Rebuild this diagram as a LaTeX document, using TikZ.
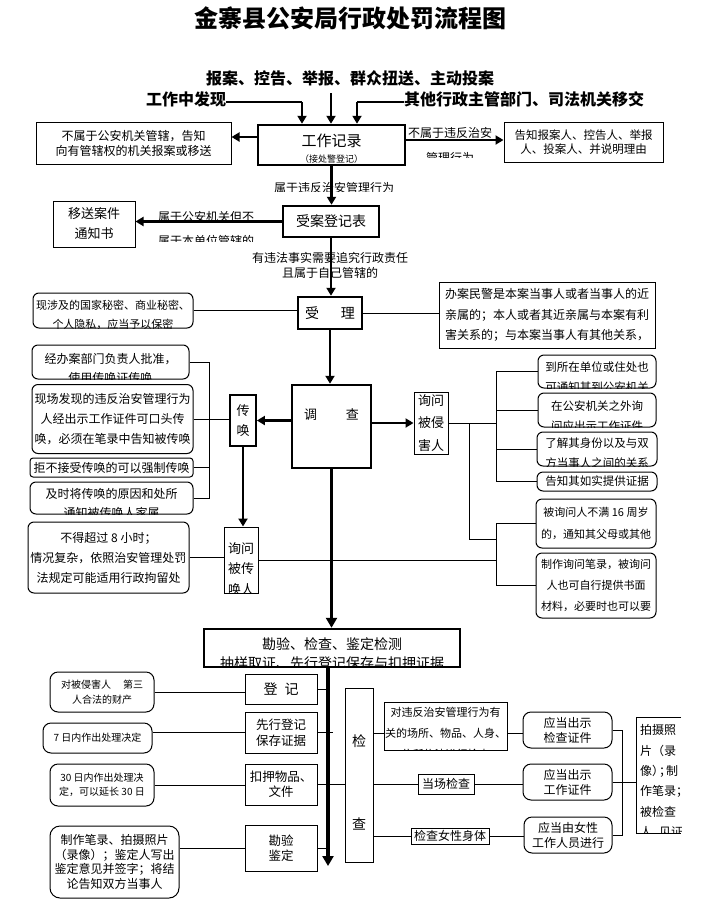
\documentclass[tikz,border=0pt]{standalone}
\usepackage{fontspec}
\setmainfont{Noto Sans CJK SC}
\usetikzlibrary{arrows.meta,positioning,calc}

\newcommand{\setfs}[2]{\fontsize{#1}{#2}\selectfont}

\tikzset{
  mainbox/.style={draw,line width=2.5pt,inner sep=1pt,align=center},
  plainbox/.style={draw,line width=1pt,inner sep=1pt,align=center},
  rbox/.style={plainbox,rounded corners=6pt},
  lbl/.style={inner sep=0pt,align=center},
  cliptxt/.style 2 args={path picture={%
      \node[anchor=north,align=center,inner sep=0pt,
            minimum width=0pt,minimum height=0pt]
        at ([yshift=-#1]path picture bounding box.north) {#2};}},
  arr/.style={-{Triangle[length=8pt,width=9pt]},line width=2.5pt},
  bigarr/.style={-{Triangle[length=10pt,width=11pt]},line width=3.5pt},
  lnk/.style={line width=1pt}
}

\begin{document}
\begin{tikzpicture}[x=1pt,y=-1pt]
  \useasboundingbox (0,0) rectangle (716,900);

  % ---- Title and sources ---------------------------------------
  \node[lbl,font=\setfs{24}{24}\bfseries] (title) at (350,18)
    {金寨县公安局行政处罚流程图};
  \node[lbl,font=\setfs{16}{16}\bfseries] (srcm) at (350,78)
    {报案、控告、举报、群众扭送、主动投案};
  \node[lbl,font=\setfs{16}{16}\bfseries] (srcl) at (186,99) {工作中发现};
  \node[lbl,font=\setfs{16}{16}\bfseries] (srcr) at (524,99)
    {其他行政主管部门、司法机关移交};

  % ---- Work record ---------------------------------------------
  \node[mainbox,minimum width=147pt,minimum height=40pt,
        font=\setfs{15}{15},text depth=9pt,
        path picture={\node[font=\setfs{9}{9},inner sep=0pt,
          minimum width=0pt,minimum height=0pt]
          at ([yshift=2pt]path picture bounding box.south) {（接处警登记）};}]
    (rec) at (331.5,145) {工作记录};

  \coordinate (srca) at (302,102);
  \coordinate (srcb) at (331,93);
  \coordinate (srcc) at (357,102);
  \draw[lnk,line width=1.5pt] (srcl.east |- srca) -- (srca);
  \draw[arr] (srca) -- (srca |- rec.north);
  \draw[arr] (srcb) -- (srcb |- rec.north);
  \draw[lnk,line width=1.5pt] (srcr.west |- srcc) -- (srcc);
  \draw[arr] (srcc) -- (srcc |- rec.north);

  \node[plainbox,minimum width=195pt,minimum height=42pt,font=\setfs{12}{15}]
    (outl) at (133.5,143) {不属于公安机关管辖，告知\\向有管辖权的机关报案或移送};
  \node[plainbox,minimum width=159pt,minimum height=40pt,font=\setfs{11.5}{14}]
    (outr) at (583.5,142) {告知报案人、控告人、举报\\人、投案人、并说明理由};

  \coordinate (recw) at ([yshift=8pt]rec.west);
  \coordinate (rece) at ([yshift=5pt]rec.east);
  \draw[arr] (recw) -- (recw -| outl.east);
  \draw[arr] (rece) -- (rece -| outr.west);
  \node[lbl,font=\setfs{12}{12}] (nota) at (450,133) {不属于违反治安};
  \node[minimum width=60pt,minimum height=6pt,inner sep=0pt,font=\setfs{12}{12},
        cliptxt={1.6pt}{管理行为}] (notb) at (450,154) {};

  % ---- Case register -------------------------------------------
  \node[mainbox,minimum width=96pt,minimum height=31pt,font=\setfs{14}{14}]
    (reg) at (331,221.5) {受案登记表};
  \draw[arr] (rec.south) -- (rec.south |- reg.north);
  \node[minimum width=130pt,minimum height=10pt,inner sep=0pt,font=\setfs{12}{12},
        cliptxt={1.6pt}{属于违反治安管理行为}] (isv) at (334,186) {};

  \node[plainbox,minimum width=82pt,minimum height=46pt,font=\setfs{13}{20}]
    (mov) at (94,224) {移送案件\\通知书};
  \draw[arr] (reg.west) -- (reg.west -| mov.east);
  \node[lbl,font=\setfs{12}{12}] (isa) at (206,217) {属于公安机关但不};
  \node[minimum width=100pt,minimum height=7pt,inner sep=0pt,font=\setfs{12}{12},
        cliptxt={1.6pt}{属于本单位管辖的}] (isb) at (206,237.5) {};

  % ---- Acceptance ----------------------------------------------
  \node[lbl,font=\setfs{12}{12}] (ifa) at (330,258) {有违法事实需要追究行政责任};
  \node[lbl,font=\setfs{12}{12}] (ifb) at (330,273) {且属于自己管辖的};
  \node[mainbox,minimum width=64pt,minimum height=32pt,font=\setfs{14}{14}]
    (acc) at (330,313) {受\hspace{22pt}理};
  \draw[arr] (reg.south) -- (reg.south |- acc.north);

  \node[rbox,minimum width=160pt,minimum height=35pt,font=\setfs{11}{19},
        cliptxt={7pt}{现涉及的国家秘密、商业秘密、\\个人隐私，应当予以保密}]
    (sec) at (113,310.5) {};
  \draw[lnk] (sec.east) -- (sec.east -| acc.west);
  \node[plainbox,minimum width=216pt,minimum height=66pt,font=\setfs{12}{20.5}]
    (avo) at (547,315) {办案民警是本案当事人或者当事人的近\\亲属的；本人或者其近亲属与本案有利\\害关系的；与本案当事人有其他关系，};
  \draw[lnk] (acc.east) -- (acc.east -| avo.west);

  % ---- Investigation -------------------------------------------
  \node[mainbox,minimum width=79pt,minimum height=83pt,font=\setfs{13}{13},
        text depth=24pt] (inv) at (331.5,426.5) {调\hspace{29pt}查};
  \draw[arr] (acc.south) -- (acc.south |- inv.north);

  \node[plainbox,line width=1.8pt,minimum width=26pt,minimum height=51pt,
        font=\setfs{13}{20}] (sum) at (243,420.5) {传\\唤};
  \draw[arr] (inv.west |- sum.east) -- (sum.east);
  \node[plainbox,minimum width=34pt,minimum height=62pt,font=\setfs{13}{22.5}]
    (vic) at (431,423) {询问\\被侵\\害人};
  \draw[arr] (inv.east |- vic.west) -- (vic.west);

  % summons conditions (left)
  \node[rbox,minimum width=157pt,minimum height=34pt,font=\setfs{12}{19},
        cliptxt={7.6pt}{经办案部门负责人批准，\\使用传唤证传唤}] (sa) at (110.5,362) {};
  \node[rbox,minimum width=161pt,minimum height=69pt,font=\setfs{12}{20}]
    (sb) at (112.5,419) {现场发现的违反治安管理行为\\人经出示工作证件可口头传\\唤，必须在笔录中告知被传唤};
  \node[rbox,rounded corners=3pt,minimum width=163pt,minimum height=19pt,
        font=\setfs{12}{12}] (sc) at (111.5,467.5) {拒不接受传唤的可以强制传唤};
  \node[rbox,minimum width=163pt,minimum height=32pt,font=\setfs{12}{19},
        cliptxt={5.6pt}{及时将传唤的原因和处所\\通知被传唤人家属}] (sd) at (111.5,498) {};
  \coordinate (spa) at (209,0);
  \draw[lnk] (sa.east) -- (sa.east -| spa) -- (sd.east -| spa) -- (sd.east);
  \draw[lnk] (sc.east) -- (sc.east -| spa);
  \draw[lnk] (sb.east) -- (sb.east -| sum.west);

  \node[plainbox,minimum width=34pt,minimum height=66pt,font=\setfs{13}{20.5},
        cliptxt={15pt}{询问\\被传\\唤人}] (sumq) at (241,560) {};
  \draw[arr] (sum.south) -- (sum.south |- sumq.north);
  \node[rbox,minimum width=161pt,minimum height=71pt,font=\setfs{12}{20}]
    (lim) at (108.5,557.5) {不得超过 8 小时；\\情况复杂，依照治安管理处罚\\法规定可能适用行政拘留处};
  \draw[lnk] (lim.east) -- (lim.east -| sumq.west);

  % questioning rules (right)
  \node[rbox,minimum width=118pt,minimum height=33pt,font=\setfs{11.5}{20},
        cliptxt={5.8pt}{到所在单位或住处也\\可通知其到公安机关}] (wa) at (597,371.5) {};
  \node[rbox,minimum width=118pt,minimum height=34pt,font=\setfs{11.5}{20},
        cliptxt={6.8pt}{在公安机关之外询\\问应出示工作证件}] (wb) at (597,410) {};
  \node[rbox,minimum width=120pt,minimum height=34pt,font=\setfs{11.5}{20},
        cliptxt={4.8pt}{了解其身份以及与双\\方当事人之间的关系}] (wc) at (597,449) {};
  \node[rbox,minimum width=120pt,minimum height=19pt,font=\setfs{11.5}{12}]
    (wd) at (597,481.5) {告知其如实提供证据};
  \node[rbox,minimum width=120pt,minimum height=49pt,font=\setfs{11}{22}]
    (we) at (596,523.5) {被询问人不满 16 周岁\\的，通知其父母或其他};
  \node[rbox,minimum width=120pt,minimum height=65pt,font=\setfs{11}{21}]
    (wf) at (596,585.5) {制作询问笔录，被询问\\人也可自行提供书面\\材料，必要时也可以要};
  \coordinate (spb) at (496,0);
  \coordinate (brk) at (469,539);
  \draw[lnk] (vic.east) -- (vic.east -| spb);
  \draw[lnk] (wa.west) -- (wa.west -| spb) -- (wd.west -| spb) -- (wd.west);
  \draw[lnk] (wb.west) -- (wb.west -| spb);
  \draw[lnk] (wc.west) -- (wc.west -| spb);
  \draw[lnk] (vic.east -| brk) -- (brk) -- (brk -| spb);
  \draw[lnk] (we.west) -- (we.west -| spb) -- (wf.west -| spb) -- (wf.west);
  \draw[lnk] (sumq.east) -- (sumq.east -| spb);

  % ---- Evidence -------------------------------------------------
  \node[mainbox,minimum width=256pt,minimum height=38pt,font=\setfs{14}{19},
        cliptxt={7.7pt}{勘验、检查、鉴定检测\\抽样取证、先行登记保存与扣押证据}]
    (chk) at (332,648) {};
  \draw[bigarr] (inv.south) -- (inv.south |- chk.north);
  \coordinate (mend) at (328,866);

  \node[plainbox,minimum width=72pt,minimum height=30pt,font=\setfs{14}{14}]
    (da) at (281,689) {登\hspace{7pt}记};
  \node[plainbox,minimum width=72pt,minimum height=41pt,font=\setfs{12.5}{16}]
    (db) at (281,732.5) {先行登记\\保存证据};
  \node[plainbox,minimum width=72pt,minimum height=41pt,font=\setfs{12.5}{15}]
    (dc) at (281,784.5) {扣押物品、\\文件};
  \node[plainbox,minimum width=72pt,minimum height=46pt,font=\setfs{12.5}{15}]
    (dd) at (281,848) {勘验\\鉴定};

  \node[rbox,rounded corners=8pt,minimum width=104pt,minimum height=40pt,
        font=\setfs{10}{15}] (ea) at (102,692) {对被侵害人\hspace{12pt}第三\\人合法的财产};
  \node[rbox,rounded corners=8pt,minimum width=109pt,minimum height=30pt,
        font=\setfs{10}{10}] (eb) at (97.5,738) {7 日内作出处理决定};
  \node[rbox,rounded corners=8pt,minimum width=104pt,minimum height=42pt,
        font=\setfs{10}{14}] (ec) at (102,785) {30 日内作出处理决\\定，可以延长 30 日};
  \node[rbox,rounded corners=10pt,minimum width=129pt,minimum height=72pt,
        font=\setfs{12}{14.5}] (ed) at (114.5,862)
    {制作笔录、拍摄照片\\（录像）；鉴定人写出\\鉴定意见并签字；将结\\论告知双方当事人};
  \draw[lnk] (ea.east) -- (ea.east -| da.west);
  \draw[lnk] (db.west) -- (db.west -| eb.east);
  \draw[lnk] (ec.east) -- (ec.east -| dc.west);
  \draw[lnk] (dd.west) -- (dd.west -| ed.east);

  % ---- Inspection ----------------------------------------------
  \node[plainbox,minimum width=28pt,minimum height=174pt,font=\setfs{14}{83},
        cliptxt={45.7pt}{检\\查}] (ins) at (359,775) {};
  \draw[lnk] (da.east) -- (da.east -| mend);
  \draw[lnk] (db.east) -- ([xshift=5pt]db.east -| mend);
  \draw[lnk] (dc.east) -- (dc.east -| ins.west);
  \draw[lnk] (dd.east) -- (dd.east -| mend);
  \draw[bigarr] (chk.south -| mend) -- (mend);

  \node[plainbox,minimum width=123pt,minimum height=48pt,font=\setfs{11}{21},
        cliptxt={5pt}{对违反治安管理行为有\\关的场所、物品、人身、\\住所依法进行检查}]
    (fa) at (445.5,726) {};
  \node[plainbox,minimum width=56pt,minimum height=20pt,font=\setfs{12}{12}]
    (fb) at (446,784) {当场检查};
  \node[plainbox,minimum width=78pt,minimum height=16pt,font=\setfs{12}{12}]
    (fc) at (450,836) {检查女性身体};
  \node[rbox,rounded corners=8pt,minimum width=89pt,minimum height=36pt,
        font=\setfs{12}{15}] (ga) at (567.5,730) {应当出示\\检查证件};
  \node[rbox,rounded corners=8pt,minimum width=89pt,minimum height=36pt,
        font=\setfs{12}{15}] (gb) at (567.5,782) {应当出示\\工作证件};
  \node[rbox,rounded corners=8pt,minimum width=88pt,minimum height=36pt,
        font=\setfs{12}{15}] (gc) at (568,835) {应当由女性\\工作人员进行};

  \coordinate (faw) at ([yshift=-7pt]fa.west);
  \draw[lnk] (faw -| ins.east) -- (faw);
  \draw[lnk] (faw -| fa.east) -- (faw -| ga.west);
  \draw[lnk] (ins.east |- fb.west) -- (fb.west);
  \draw[lnk] (fb.east) -- (fb.east -| gb.west);
  \draw[lnk] (ins.east |- fc.west) -- (fc.west);
  \draw[lnk] (fc.east) -- (fc.east -| gc.west);

  \node[minimum width=44pt,minimum height=115pt,inner sep=0pt,font=\setfs{12}{20.3},
        path picture={\node[anchor=north west,align=left,inner sep=0pt,
          minimum width=0pt,minimum height=0pt]
          at ([xshift=3pt,yshift=-6.6pt]path picture bounding box.north west)
          {拍摄照\\片（录\\像）\hspace{-5pt}；\hspace{-5pt}制\\作笔录；\\被检查\\人、\hspace{-5pt}见证};}]
    (ph) at (659,775.5) {};
  \draw[lnk] (ph.north east) -- (ph.north west) -- (ph.south west) -- (ph.south east);

  \coordinate (spc) at (622,0);
  \draw[lnk] (ga.east) -- (ga.east -| spc) -- (gc.east -| spc) -- (gc.east);
  \draw[lnk] (gb.east) -- (gb.east -| ph.west);
\end{tikzpicture}
\end{document}
